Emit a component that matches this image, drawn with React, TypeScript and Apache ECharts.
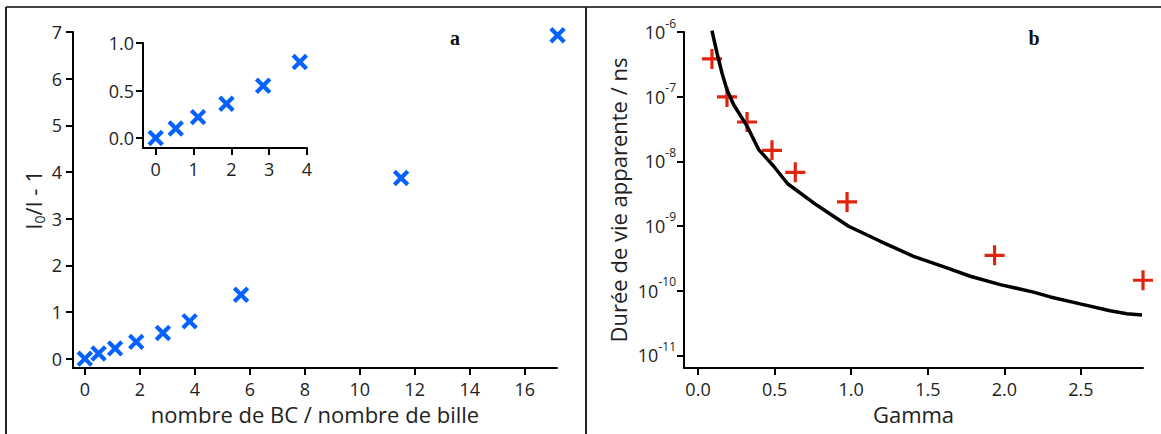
import React, { useEffect, useRef } from 'react';
import * as echarts from 'echarts';

// ---- Data ----
const mainX = [0, 0.5, 1.1, 1.87, 2.84, 3.81, 5.68, 11.5, 17.19];
const mainY = [0, 0.11, 0.22, 0.36, 0.55, 0.8, 1.37, 3.87, 6.93];
const insetX = [0, 0.53, 1.12, 1.87, 2.84, 3.81];
const insetY = [0, 0.1, 0.22, 0.36, 0.55, 0.8];
const gammaPts = [0.091, 0.189, 0.32, 0.483, 0.635, 0.973, 1.936, 2.905];
const lifetimePts = [3.83e-7, 9.9e-8, 4.06e-8, 1.48e-8, 6.76e-9, 2.36e-9, 3.52e-10, 1.45e-10];
const gammaCurve = [0.091, 0.124, 0.157, 0.189, 0.233, 0.32, 0.396, 0.494, 0.585, 0.777, 0.983, 1.19, 1.407, 1.625, 1.777, 1.973, 2.19, 2.3, 2.495, 2.69, 2.8, 2.898];
const lifetimeCurve = [1.05e-6, 4.7e-7, 2.3e-7, 1.28e-7, 7.5e-8, 3.5e-8, 1.52e-8, 8.4e-9, 4.5e-9, 2.09e-9, 9.9e-10, 5.8e-10, 3.4e-10, 2.25e-10, 1.67e-10, 1.24e-10, 9.5e-11, 8.0e-11, 6.25e-11, 4.9e-11, 4.4e-11, 4.2e-11];
const mainXTicks = [0, 2, 4, 6, 8, 10, 12, 14, 16];
const mainYTicks = [0, 1, 2, 3, 4, 5, 6, 7];
const insetXTicks = [0, 1, 2, 3, 4];
const insetYTicks = [0, 0.5, 1];
const gammaTicks = [0, 0.5, 1, 1.5, 2, 2.5];
const lifetimeTicks = [1e-11, 1e-10, 1e-9, 1e-8, 1e-7, 1e-6];

const FONT = '"Open Sans"';
const TXT = '#222';
const BLUE = '#0662ff';
const RED = '#e0240e';
const TICK_FS = 18;
const NAME_FS = 22;

const X_PATH = 'path://M39,0H61V39H100V61H61V100H39V61H0V39H39Z';
const PLUS_PATH = 'path://M42,0H58V42H100V58H58V100H42V58H0V42H42Z';

function axis(gridIndex: number, min: number, max: number, ticks: number[], extra: any = {}) {
  const { axisLabel, ...rest } = extra;
  return {
    type: 'value',
    gridIndex,
    min,
    max,
    splitLine: { show: false },
    axisLine: { show: true, onZero: false, lineStyle: { color: '#000', width: 2 } },
    axisTick: { show: true, inside: false, length: 7, customValues: ticks, lineStyle: { color: '#000', width: 2 } },
    axisLabel: {
      customValues: ticks,
      fontFamily: FONT,
      fontSize: TICK_FS,
      color: TXT,
      ...(axisLabel || {}),
    },
    nameTextStyle: { fontFamily: FONT, fontSize: NAME_FS, color: TXT },
    ...rest,
  };
}

export default function App() {
  const ref = useRef<HTMLDivElement>(null);
  useEffect(() => {
    if (!ref.current) return;
    const chart = echarts.init(ref.current, null, { renderer: 'svg' });
    const option: any = {
      animation: false,
      backgroundColor: '#fff',
      grid: [
        { left: 73, top: 32, width: 484, height: 336 },
        { left: 143, top: 43, width: 164, height: 105 },
        { left: 684, top: 32, width: 459, height: 336 },
      ],
      xAxis: [
        axis(0, -0.43, 17.17, mainXTicks, {
          axisLabel: { margin: 12 },
          name: 'nombre de BC / nombre de bille',
          nameLocation: 'middle',
          nameGap: 33,
        }),
        axis(1, -0.336, 4, insetXTicks, { axisLabel: { margin: 12 } }),
        axis(2, -0.0915, 2.905, gammaTicks, {
          axisLabel: { margin: 12, formatter: (v: number) => v.toFixed(1) },
          name: 'Gamma',
          nameLocation: 'middle',
          nameGap: 33,
        }),
      ],
      yAxis: [
        axis(0, -0.2, 7, mainYTicks, {
          axisLabel: { margin: 11 },
          name: 'I{sub|0}/I - 1',
          nameLocation: 'middle',
          nameRotate: 90,
          nameGap: 27,
          nameTextStyle: {
            fontFamily: FONT,
            fontSize: NAME_FS,
            color: TXT,
            rich: { sub: { fontFamily: FONT, fontSize: 14, color: TXT, padding: [12, 0, 0, 0] } },
          },
        }),
        axis(1, -0.105, 1, insetYTicks, {
          axisLabel: { margin: 9, formatter: (v: number) => v.toFixed(1) },
        }),
        {
          ...axis(2, Math.pow(10, -11.196), 1e-6, lifetimeTicks, {
            axisLabel: {
              margin: 8,
              formatter: (v: number) => '10{sup|' + Math.round(Math.log10(v)) + '}',
              rich: { sup: { fontFamily: FONT, fontSize: 12, color: TXT, padding: [0, 0, 18, 0] } },
            },
            name: 'Durée de vie apparente / ns',
            nameLocation: 'middle',
            nameRotate: 90,
            nameGap: 55,
          }),
          type: 'log',
          logBase: 10,
        },
      ],
      graphic: [
        { type: 'line', shape: { x1: 6, y1: 7, x2: 1161, y2: 7 }, style: { stroke: '#444', lineWidth: 2 } },
        { type: 'line', shape: { x1: 6, y1: 7, x2: 6, y2: 434 }, style: { stroke: '#222', lineWidth: 2 } },
        { type: 'line', shape: { x1: 586, y1: 7, x2: 586, y2: 434 }, style: { stroke: '#222', lineWidth: 2 } },
        { type: 'text', x: 455, y: 38, style: { text: 'a', font: 'bold 20px "Liberation Serif"', fill: '#111', align: 'center', verticalAlign: 'middle' } },
        { type: 'text', x: 1034, y: 38, style: { text: 'b', font: 'bold 20px "Liberation Serif"', fill: '#111', align: 'center', verticalAlign: 'middle' } },
      ],
      series: [
        {
          type: 'scatter',
          xAxisIndex: 0,
          yAxisIndex: 0,
          clip: false,
          symbol: X_PATH,
          symbolSize: 19,
          symbolRotate: 45,
          itemStyle: { color: BLUE, opacity: 1 },
          data: mainX.map((x, i) => [x, mainY[i]]),
        },
        {
          type: 'scatter',
          xAxisIndex: 1,
          yAxisIndex: 1,
          clip: false,
          symbol: X_PATH,
          symbolSize: 19,
          symbolRotate: 45,
          itemStyle: { color: BLUE, opacity: 1 },
          data: insetX.map((x, i) => [x, insetY[i]]),
        },
        {
          type: 'line',
          xAxisIndex: 2,
          yAxisIndex: 2,
          clip: false,
          showSymbol: false,
          symbol: 'none',
          lineStyle: { color: '#000', width: 3.5 },
          data: gammaCurve.map((x, i) => [x, lifetimeCurve[i]]),
        },
        {
          type: 'scatter',
          xAxisIndex: 2,
          yAxisIndex: 2,
          clip: false,
          symbol: PLUS_PATH,
          symbolSize: 20,
          itemStyle: { color: RED, opacity: 1 },
          data: gammaPts.map((x, i) => [x, lifetimePts[i]]),
        },
      ],
    };
    chart.setOption(option);
    return () => chart.dispose();
  }, []);
  return (
    <div
      ref={ref}
      style={{ position: 'absolute', left: 0, top: 0, width: 1161, height: 434, background: '#fff' }}
    />
  );
}
